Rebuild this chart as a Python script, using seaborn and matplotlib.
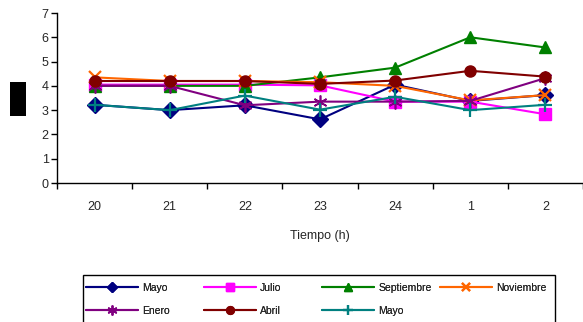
import matplotlib
matplotlib.use("Agg")
import matplotlib.pyplot as plt
import seaborn as sns
from matplotlib.patches import Rectangle

# Hours of the day (time axis) and readings per sampling month
horas = ["20", "21", "22", "23", "24", "1", "2"]
mayo_a = [3.22, 3.0, 3.2, 2.62, 4.05, 3.38, 3.62]
julio = [4.05, 4.05, 4.05, 4.02, 3.35, 3.35, 2.83]
septiembre = [4.0, 4.0, 4.0, 4.35, 4.75, 6.0, 5.58]
noviembre = [4.35, 4.2, 4.2, 4.15, 4.0, 3.4, 3.62]
enero = [4.0, 4.0, 3.2, 3.35, 3.35, 3.38, 4.32]
abril = [4.2, 4.2, 4.2, 4.08, 4.22, 4.62, 4.38]
mayo_b = [3.22, 3.0, 3.6, 3.02, 3.55, 3.0, 3.22]

series = [
    ("Mayo", mayo_a, "#000080", "D", 8, 1),
    ("Julio", julio, "#FF00FF", "s", 8, 1),
    ("Septiembre", septiembre, "#008000", "^", 9, 1),
    ("Noviembre", noviembre, "#FF6600", "x", 9, 1.6),
    ("Enero", enero, "#800080", (6, 2, 0), 10, 1.2),
    ("Abril", abril, "#800000", "o", 8, 1),
    ("Mayo", mayo_b, "#008080", "+", 10, 1.6),
]

sns.set_style("white")
plt.rcParams["font.family"] = ["Liberation Sans", "DejaVu Sans"]

W, H = 583, 322
fig = plt.figure(figsize=(W / 100, H / 100), dpi=100)
ax = fig.add_axes([57 / W, 1 - 183 / H, 1 - 57 / W, 170 / H])

pos = list(range(len(horas)))
for name, vals, color, marker, ms, mew in series:
    sns.lineplot(x=pos, y=vals, ax=ax, color=color, marker=marker,
                 markersize=ms, markeredgewidth=mew, markeredgecolor=color,
                 linewidth=1.5, label=name)

ax.set_xlim(-0.5, 6.5)
ax.set_ylim(0, 7)
ax.set_yticks(range(0, 8))
ax.set_xticks(pos)
ax.set_xticklabels(horas)
ax.set_xticks([p - 0.5 for p in pos] + [6.5], minor=True)
ax.tick_params(axis="x", which="major", length=0, pad=13, labelsize=9)
ax.tick_params(axis="x", which="minor", length=4, width=1, color="black", direction="out")
ax.tick_params(axis="y", length=4, width=1, color="black", direction="out", labelsize=9, pad=2)
ax.yaxis.set_ticks_position("left")
ax.xaxis.set_ticks_position("bottom")
for side in ("top", "right"):
    ax.spines[side].set_visible(False)
for side in ("left", "bottom"):
    ax.spines[side].set_color("black")
    ax.spines[side].set_linewidth(1)
ax.set_xlabel("Tiempo (h)", fontsize=9, labelpad=12)
ax.set_ylabel("")

handles, labels = ax.get_legend_handles_labels()
ax.get_legend().remove()

# Legend frame, then one column of entries per slot at even spacing
fig.patches.append(Rectangle((83 / W, -0.05), (555 - 83) / W, 1 - 275 / H + 0.05,
                             transform=fig.transFigure, facecolor="white",
                             edgecolor="black", linewidth=1, zorder=0))
columns = [[0, 4], [1, 5], [2, 6], [3]]
col_x = [86, 204, 322, 440]
for idx, x0 in zip(columns, col_x):
    leg = fig.legend([handles[i] for i in idx], [labels[i] for i in idx],
                     loc="upper left", bbox_to_anchor=(x0 / W, 1 - 283 / H),
                     ncol=1, fontsize=7.5, frameon=False, handlelength=5,
                     handletextpad=0.4, borderpad=0, borderaxespad=0,
                     labelspacing=1.25, markerscale=0.7)
    fig.add_artist(leg)

# Y-axis caption block
fig.patches.append(Rectangle((10 / W, 1 - 116 / H), 16 / W, 34 / H,
                             transform=fig.transFigure, facecolor="black",
                             edgecolor="none"))

fig.savefig("out.png", dpi=100)
